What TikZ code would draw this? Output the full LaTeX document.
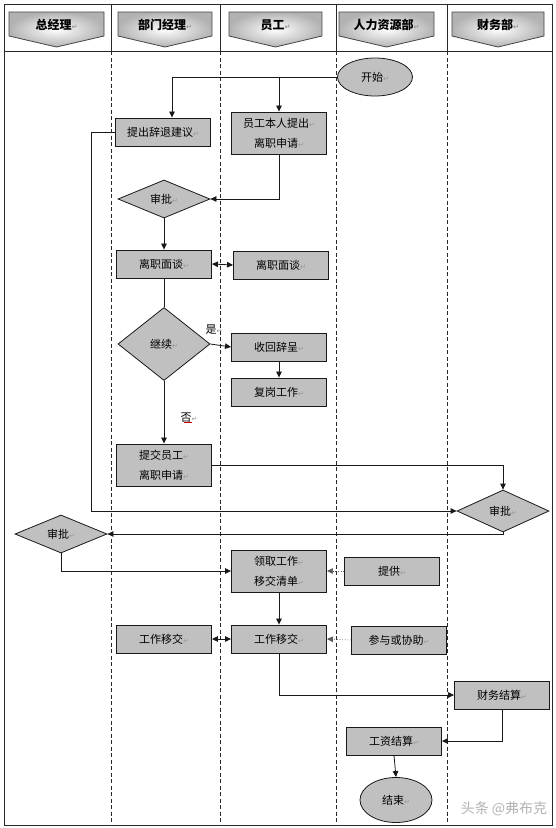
\documentclass[tikz,border=0pt]{standalone}
\usepackage{fontspec}
\setmainfont{Noto Sans CJK SC}
\newfontfamily\lzsym{DejaVu Sans}
\usepackage{xcolor}
\usepackage{tikz}
\usetikzlibrary{positioning,arrows.meta,shapes.geometric}
\newcommand{\lzbody}{\fontsize{11}{20}\selectfont}
\newcommand{\lzhead}{\bfseries\fontsize{12}{14}\selectfont}
\newcommand{\pmk}{{\lzsym\color{lzMark}\fontsize{7}{7}\selectfont ↵}}
\definecolor{lzInk}{RGB}{25,25,25}
\definecolor{lzFill}{RGB}{192,192,192}
\definecolor{lzMark}{RGB}{150,150,150}
\definecolor{lzRule}{RGB}{40,40,40}
\tikzset{
  lzBox/.style={draw=lzInk, fill=lzFill, line width=.9pt, align=center,
    font=\lzbody, text=black, minimum width=95, minimum height=28, inner sep=1pt},
  lzDecide/.style={diamond, draw=lzInk, fill=lzFill, line width=.8pt,
    font=\lzbody, text=black, minimum width=92, minimum height=36, inner sep=0pt},
  lzEnd/.style={ellipse, draw=lzInk, fill=lzFill, line width=.8pt,
    font=\lzbody, text=black, minimum width=75, minimum height=38, inner sep=0pt},
  lzFlow/.style={-{Triangle[length=6pt,width=5.5pt]}, line width=.8pt,
    draw=lzInk, line join=miter},
  lzBoth/.style={{Triangle[length=6pt,width=5.5pt]}-{Triangle[length=6pt,width=5.5pt]},
    line width=.8pt, draw=lzInk},
  lzLine/.style={line width=.8pt, draw=lzInk},
  lzDot/.style={-{Triangle[length=6pt,width=5.5pt]}, line width=.7pt,
    draw=gray!70!black, dotted},
  lzLane/.style={line width=.6pt, draw=lzRule, dash pattern=on 4pt off 2.5pt},
  lzFrame/.style={line width=.8pt, draw=lzRule},
  lzBanner/.style={draw=gray!55!black, line width=.8pt, inner color=white,
    outer color=gray!60},
  lzHeadText/.style={font=\lzhead, text=black, inner sep=0pt},
  lzLabel/.style={font=\lzbody, text=black, inner sep=.5pt}
}

\begin{document}
\begin{tikzpicture}[x=1pt,y=-1pt]
\useasboundingbox (0,0) rectangle (555,828);
\fill[white] (0,0) rectangle (555,828);
% swimlane frame
\draw[lzFrame] (4,4) rectangle (552,825);
\draw[lzFrame] (4,51) -- (552,51);
\foreach \xl in {111,220,336,447} {
  \draw[lzFrame] (\xl,4) -- (\xl,51);
  \draw[lzLane] (\xl,51) -- (\xl,825);
}
% lane banners
\foreach \xa/\xb/\lane in {9/104/总经理, 118/212/部门经理, 229/322/员工, 339/434/人力资源部, 452/544/财务部} {
  \shadedraw[lzBanner] (\xa,12) -- (\xb,12) -- (\xb,36) -- ({(\xa+\xb)/2},47) -- (\xa,36) -- cycle;
  \node[lzHeadText] (hd\xa) at ({(\xa+\xb)/2},25) {\lane\pmk};
}

\node[lzEnd] (start) at (375,77) {开始\pmk};
\node[lzBox] (propose) at (163,132) {提出辞退建议\pmk};
\node[lzBox,minimum height=42] (selfreq) at (279,133) {员工本人提出\pmk\\离职申请\pmk};
\node[lzDecide] (deptok) at (164,199) {审批\pmk};
\node[lzBox] (talkD) at (164,264) {离职面谈\pmk};
\node[lzBox] (talkE) at (281,265) {离职面谈\pmk};
\node[lzDecide,minimum height=73] (goon) at (164,344) {继续\pmk};
\node[lzBox] (withdraw) at (279,347) {收回辞呈\pmk};
\node[lzBox] (rejoin) at (279,392) {复岗工作\pmk};
\node[lzLabel] (yes) at (214,330) {是\pmk};
\node[lzLabel] (no) at (189,418) {否\pmk};
\draw[red!80!black, line width=.6pt] ([xshift=-5pt,yshift=1pt]no.south) -- ([xshift=3pt,yshift=1pt]no.south);
\node[lzBox,minimum height=42] (submit) at (164,465) {提交员工\pmk\\离职申请\pmk};
\node[lzDecide,minimum height=42] (finok) at (503,511) {审批\pmk};
\node[lzDecide] (gmok) at (61,534) {审批\pmk};
\node[lzBox,minimum height=42] (getlist) at (279,571) {领取工作\pmk\\移交清单\pmk};
\node[lzBox] (supply) at (392,571) {提供\pmk};
\node[lzBox] (handD) at (164,639) {工作移交\pmk};
\node[lzBox] (handE) at (279,639) {工作移交\pmk};
\node[lzBox] (assist) at (399,640) {参与或协助\pmk};
\node[lzBox] (finset) at (502,695) {财务结算\pmk};
\node[lzBox] (payset) at (394,741) {工资结算\pmk};
\node[lzEnd,minimum width=72,minimum height=45] (finish) at (396,800) {结束\pmk};
\node[font=\fontsize{14}{14}\selectfont, text=gray!60] (mark) at (504,809) {头条 @弗布克};

\draw[lzFlow] (start.west) -| ([xshift=9pt]propose.north);
\draw[lzFlow] (start.west) -| (selfreq.north);
\draw[lzFlow] (propose.west) -- ++(-24,0) |- (finok.west);
\draw[lzFlow] (selfreq.south) |- (deptok.east);
\draw[lzFlow] (deptok.south) -- (talkD.north);
\draw[lzBoth] (talkD.east) -- (talkE.west);
\draw[lzLine] (talkD.south) -- (goon.north);
\draw[lzFlow] (goon.east) -- (withdraw.west);
\draw[lzFlow] (withdraw.south) -- (rejoin.north);
\draw[lzFlow] (goon.south) -- (submit.north);
\draw[lzFlow] (submit.east) -| (finok.north);
\draw[lzFlow] (finok.south) |- (gmok.east);
\draw[lzFlow] (gmok.south) |- (getlist.west);
\draw[lzDot] (supply.west) -- (getlist.east);
\draw[lzFlow] (getlist.south) -- (handE.north);
\draw[lzBoth] (handD.east) -- (handE.west);
\draw[lzDot] (assist.west) -- (handE.east);
\draw[lzFlow] (handE.south) |- (finset.west);
\draw[lzFlow] (finset.south) |- (payset.east);
\draw[lzFlow] (payset.south) -- (finish.north);
\end{tikzpicture}
\end{document}
